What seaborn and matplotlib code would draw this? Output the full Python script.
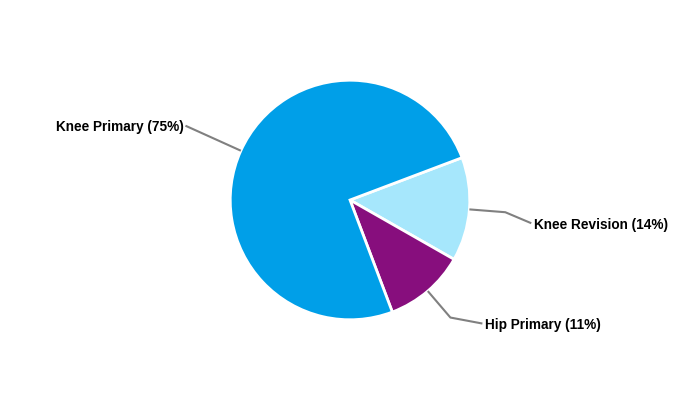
import numpy as np
import matplotlib
matplotlib.use("Agg")
import matplotlib.pyplot as plt
import seaborn as sns

categories = ["Knee Revision", "Hip Primary", "Knee Primary"]
values = [14, 11, 75]
colors = ["#A6E7FC", "#870E7D", "#009FE8"]

sns.set_theme(style="white")
plt.rcParams["font.family"] = ["Liberation Sans", "DejaVu Sans"]

fig = plt.figure(figsize=(7, 4), dpi=100)
ax = fig.add_axes([0, 0, 1, 1])
R = 118.0
rad = 1.015

start = 20.7
wedges, _ = ax.pie(values, colors=colors, startangle=start, counterclock=False,
                   radius=rad, center=(0, 0),
                   wedgeprops=dict(edgecolor="white", linewidth=2))
ax.set_xlim(-350 / R, 350 / R)
ax.set_ylim(-200 / R, 200 / R)
ax.set_aspect("equal")
ax.axis("off")

# label layout: elbow radius, end offset (data units) from elbow
layout = {
    "Knee Revision": (1.32, (26 / R, -11 / R), "left"),
    "Hip Primary": (1.31, (32 / R, -6 / R), "left"),
    "Knee Primary": (1.53, (0.0, 0.0), "right"),
}

total = sum(values)
for w, cat, v in zip(wedges, categories, values):
    mid = np.deg2rad((w.theta1 + w.theta2) / 2)
    p0 = np.array([np.cos(mid), np.sin(mid)]) * rad
    r_el, (dx, dy), ha = layout[cat]
    p1 = p0 / rad * r_el
    p2 = p1 + np.array([dx, dy])
    ax.plot([p0[0], p1[0], p2[0]], [p0[1], p1[1], p2[1]], color="#808080",
            lw=1.5, solid_capstyle="butt", zorder=1)
    gap = 3 / R if ha == "left" else -2 / R
    ax.text(p2[0] + gap, p2[1] - 1.5 / R, f"{cat} ({round(100 * v / total)}%)",
            ha=ha, va="center", fontsize=9.8, fontweight="bold", color="black")

fig.savefig("out.png", dpi=100)
